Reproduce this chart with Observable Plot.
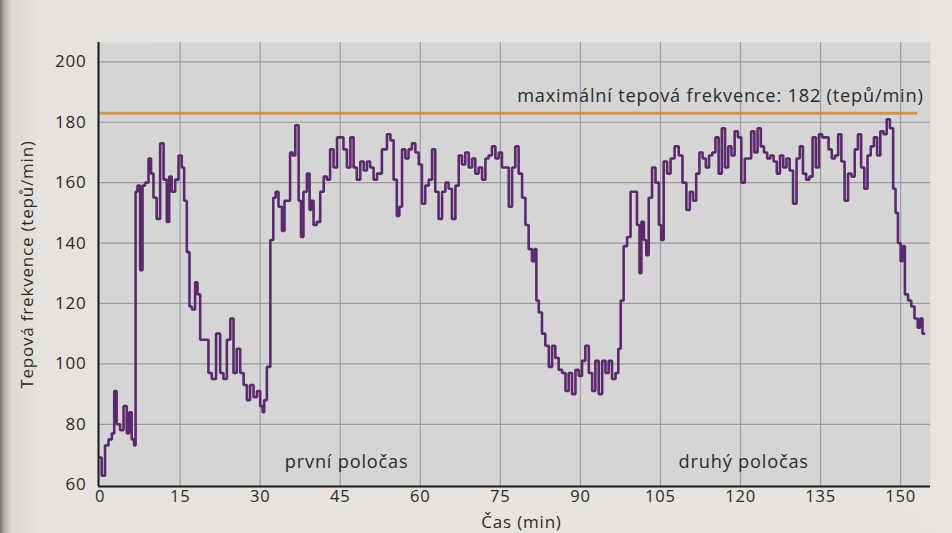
<!DOCTYPE html>
<html>
<head>
<meta charset="utf-8">
<script src="https://cdn.jsdelivr.net/npm/d3@7"></script>
<script src="https://cdn.jsdelivr.net/npm/@observablehq/plot@0.6"></script>
<style>
html, body { margin: 0; padding: 0; }
body {
  width: 952px; height: 533px; overflow: hidden;
  background: linear-gradient(to right, #7a756f 0px, #b9b4ae 5px, #dcd9d4 12px, #e6e3de 40px, #e8e5e0 100%);
  font-family: "Open Sans", sans-serif;
}
#chart svg { display: block; }
#chart svg text { letter-spacing: 0.8px; }
</style>
</head>
<body>
<div id="chart"></div>
<script>
// --- data ---
const minutesFirst = [0,0.6,1.25,1.9,2.5,2.8,3.4,4.1,4.7,5.3,5.6,6.25,6.5,6.8,7.2,7.8,8.1,8.75,9.4,9.7,10.3,10.9,11.6,12.2,12.8,13.1,13.75,14.4,15.0,15.6,15.9,16.6,16.9,17.5,18.1,18.4,19.1,20.0,20.6,21.25,22.2,22.8,23.4,24.1,24.7,25.3,25.9,26.6,27.2,27.8,28.4,29.1,29.7,30.3,30.6,30.9,31.6,32.2,32.7,33.1,33.75,34.4,34.7,35.3,35.9,36.25,36.9,37.5,37.8,38.4,39.1,39.4,39.7,40.3,40.9,41.6,42.2,42.8,43.4,44.1,44.7,45.3,45.9,46.6,47.2,47.8,48.4,49.1,49.7,50.3,50.9,51.6,52.2];
const bpmFirst = [69,63,73,75,77,91,80,78,86,77,84,75,73,157,159,131,159,160,168,163,155,148,173,161,147,162,157,161,169,165,154,137,119,118,127,123,108,108,97,95,110,97,95,108,115,97,105,97,93,88,93,89,91,86,84,88,99,141,155,157,152,144,154,154,170,169,179,154,142,157,163,151,154,146,147,157,162,161,171,165,175,175,171,165,175,165,161,167,164,167,165,161,163];

const minutesMiddle = [53.4,54.1,54.7,55.3,55.9,56.25,56.9,57.5,58.1,58.75,59.4,60.0,60.6,61.25,61.9,62.5,63.1,63.75,64.4,65.0,65.6,66.25,66.9,67.5,68.1,68.75,69.4,70.0,70.6,71.25,71.9,72.5,73.1,73.75,74.4,75.0,75.6,76.25,76.9,77.5,78.1,78.75,79.4,80.0,80.6,81.25,81.6,81.9,82.5,83.1,83.75,84.4,85.0,85.6,86.25,86.9,87.5,88.1,88.75,89.4,90.0,90.6,91.25,91.9,92.5,93.1,93.75,94.4,95.0,95.6,96.25,96.9,97.3,97.8,98.4,99.1,99.7,100.3,100.9,101.25,101.6,102.2,102.5,103.1,103.75,104.4,105.0,105.3,105.9,106.6,107.2,108.1,108.75];
const bpmMiddle = [171,176,174,161,149,152,171,168,171,173,170,166,153,159,161,171,157,148,157,160,158,148,159,169,166,170,165,168,163,165,161,168,169,172,168,170,165,165,152,165,172,163,155,146,138,134,138,121,117,110,106,99,106,102,98,97,91,97,90,98,96,101,106,97,91,101,90,101,97,101,95,97,105,121,139,142,157,157,146,130,147,141,136,155,165,160,146,141,167,163,168,172,169];

const minutesLast = [109.5,110.2,110.8,111.4,112.0,112.6,113.2,113.8,114.4,115.0,115.6,116.2,116.8,117.4,118.0,118.6,119.2,119.8,120.5,121.1,121.7,122.3,122.9,123.5,124.1,124.7,125.3,125.9,126.5,127.1,127.7,128.3,128.9,129.5,130.2,130.8,131.4,132.0,132.6,133.2,133.8,134.4,135.0,135.6,136.2,136.8,137.4,138.0,138.6,139.2,139.8,140.5,141.1,141.7,142.3,142.9,143.5,144.1,144.7,145.3,145.9,146.5,147.1,147.7,148.3,148.9,149.2,149.8,150.2,150.5,151.1,151.7,152.3,152.9,153.5,153.8,154.4];
const bpmLast = [160,151,157,154,163,170,168,165,169,170,175,163,178,165,172,169,177,175,160,168,168,177,170,178,172,170,168,169,167,163,169,165,168,164,153,168,172,163,161,162,175,165,176,175,175,171,168,169,176,167,154,163,162,171,176,165,158,169,172,175,169,177,176,181,178,158,150,140,134,139,123,121,119,115,112,115,110];

const xTicks = [0,15,30,45,60,75,90,105,120,135,150];
const yTicks = [60,80,100,120,140,160,180,200];
const maxLineLevel = 183;        // where the orange line is drawn
const maxLineEnd = 153.2;        // minute where the orange line stops
const maxLabel = "maximální tepová frekvence: 182 (tepů/min)";
const halfLabels = ["první poločas", "druhý poločas"];
const halfLabelMinute = [46.2, 120.6];
const halfLabelBpm = [67.3, 67.3];
const xTitle = "Čas (min)";
const yTitle = "Tepová frekvence (tepů/min)";

// --- build tables ---
const series = [
  ...d3.zip(minutesFirst, bpmFirst),
  ...d3.zip(minutesMiddle, bpmMiddle),
  ...d3.zip(minutesLast, bpmLast)
].map(([t, v]) => ({t, v}));
const halves = halfLabels.map((label, i) => ({label, t: halfLabelMinute[i], v: halfLabelBpm[i]}));

const xDomain = [-0.3, 155.6];
const yDomain = [59.4, 206.4];

const chart = Plot.plot({
  width: 952,
  height: 533,
  marginLeft: 98,
  marginRight: 22,
  marginTop: 42,
  marginBottom: 47,
  style: {background: "transparent", fontFamily: "'Open Sans', sans-serif", color: "#222"},
  x: {domain: xDomain, axis: null},
  y: {domain: yDomain, axis: null},
  marks: [
    Plot.frame({fill: "#d6d5d5", stroke: null}),
    Plot.gridX(xTicks.filter(d => d > 0), {stroke: "#9c9c9c", strokeOpacity: 1, strokeWidth: 1.2}),
    Plot.gridY(yTicks.filter(d => d > 60), {stroke: "#9c9c9c", strokeOpacity: 1, strokeWidth: 1.2}),
    Plot.ruleY([maxLineLevel], {x1: xDomain[0], x2: maxLineEnd, stroke: "#d4953f", strokeWidth: 3}),
    Plot.text([maxLabel], {x: 154.3, y: 188.6, textAnchor: "end", fontSize: 18.2, fill: "#2a2a2a"}),
    Plot.text(halves, {x: "t", y: "v", text: "label", fontSize: 18.2, fill: "#2a2a2a"}),
    Plot.line(series, {x: "t", y: "v", curve: "step", stroke: "#5b2a6c", strokeWidth: 2.6, strokeLinejoin: "miter"}),
    Plot.ruleX([xDomain[0]], {stroke: "#1a1a1a", strokeWidth: 2}),
    Plot.ruleY([yDomain[0]], {stroke: "#1a1a1a", strokeWidth: 2}),
    Plot.axisX(xTicks, {tickSize: 0, tickPadding: 4, fontSize: 16.5, label: null, fill: "#2a2a2a"}),
    Plot.axisY(yTicks, {tickSize: 0, tickPadding: 12, fontSize: 17, label: null, fill: "#2a2a2a"}),
    Plot.text([xTitle], {frameAnchor: "bottom", textAnchor: "middle", lineAnchor: "middle", dx: 7, dy: 36, fontSize: 17, fill: "#2a2a2a"}),
    Plot.text([yTitle], {frameAnchor: "left", textAnchor: "middle", lineAnchor: "middle", rotate: -90, dx: -71, fontSize: 17, fill: "#2a2a2a"})
  ]
});
document.getElementById("chart").appendChild(chart);
</script>
</body>
</html>
